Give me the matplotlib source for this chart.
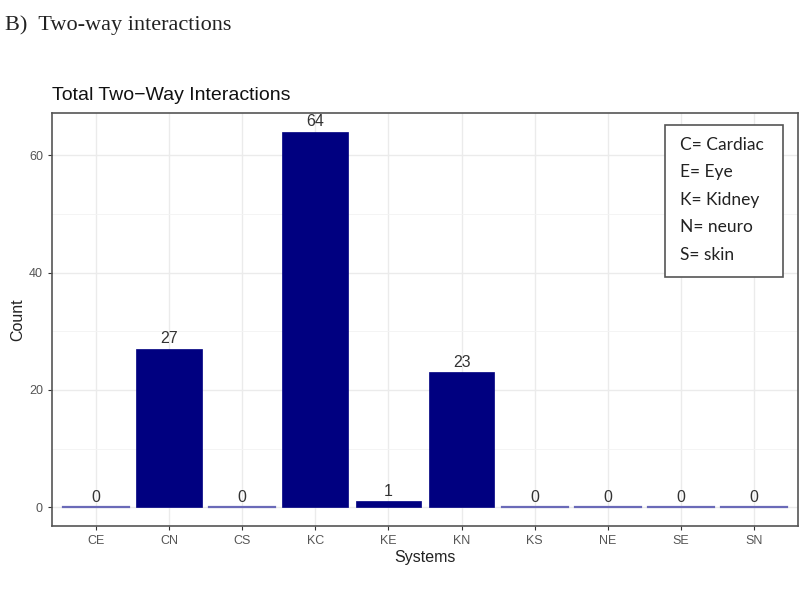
import matplotlib
matplotlib.use("Agg")
import matplotlib.pyplot as plt
import numpy as np

plt.rcParams["font.family"] = ["Liberation Sans", "DejaVu Sans"]

systems = ["CE", "CN", "CS", "KC", "KE", "KN", "KS", "NE", "SE", "SN"]
counts = [0, 27, 0, 64, 1, 23, 0, 0, 0, 0]
legend_lines = ["C= Cardiac", "E= Eye", "K= Kidney", "N= neuro", "S= skin"]

fig = plt.figure(figsize=(8, 6), dpi=100)
ax = fig.add_axes([52/800, 1 - 526/600, (798-52)/800, (526-113)/600])

x = np.arange(len(systems))
for xi, c in zip(x, counts):
    if c == 0:
        ax.plot([xi - 0.45, xi + 0.45], [0, 0], color="#6a6ab8", lw=1.6, zorder=3)
    else:
        ax.bar(xi, c, width=0.9, color="#000080", edgecolor="#000080", lw=0.5, zorder=3)
    ax.text(xi, c + 0.4, str(c), ha="center", va="bottom", fontsize=11.5,
            color="#333333", zorder=4)

ax.set_xlim(-0.6, len(systems) - 0.4)
ax.set_ylim(-3.2, 67.2)
ax.set_xticks(x)
ax.set_xticklabels(systems)
ax.set_yticks([0, 20, 40, 60])
ax.set_yticks([10, 30, 50], minor=True)
ax.grid(True, which="major", color="#ebebeb", lw=1.0, zorder=0)
ax.grid(True, which="minor", axis="y", color="#f3f3f3", lw=0.6, zorder=0)
ax.tick_params(axis="both", which="major", colors="#333333", labelcolor="#555555",
               labelsize=9, length=3, width=0.8)
ax.tick_params(axis="y", which="minor", length=0)
for s in ax.spines.values():
    s.set_color("#555555")
    s.set_linewidth(1.2)

ax.set_xlabel("Systems", fontsize=11.5, color="#222222", labelpad=2)
ax.set_ylabel("Count", fontsize=11.5, color="#222222", labelpad=3)
ax.set_title("Total Two\u2212Way Interactions", loc="left", fontsize=14,
             color="#111111", pad=9)

fig.text(5/800, 1 - 25/600, "B)  Two-way interactions", family="Liberation Serif",
         fontsize=16, va="center", ha="left", color="#222222")

# annotation box
bx0, by0, bx1, by1 = 665, 125, 783, 277
fig.patches.append(plt.Rectangle((bx0/800, 1 - by1/600), (bx1-bx0)/800, (by1-by0)/600,
                                 transform=fig.transFigure, fill=True, facecolor="white",
                                 edgecolor="#555555", lw=1.2, zorder=5))
for i, line in enumerate(legend_lines):
    fig.text(680/800, 1 - (145 + i*27.5)/600, line, family="Lato", fontsize=12.5,
             va="center", ha="left", color="#222222", zorder=6)

fig.savefig("out.png", dpi=100)
